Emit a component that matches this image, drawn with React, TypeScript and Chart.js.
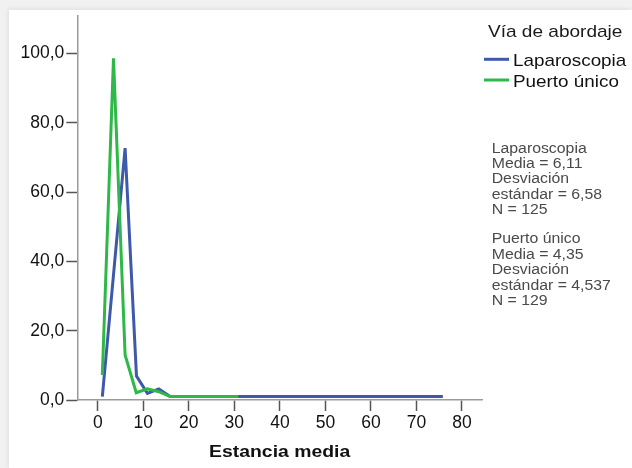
import React, { useEffect, useRef } from "react";
import { Chart, registerables } from "chart.js";

Chart.register(...registerables);

// Frequency polygon of hospital stay (days) by surgical approach
const lapX = [1.0, 6.0, 8.5, 10.9, 13.4, 15.9, 75.8];
const lapY = [1.0, 72.7, 6.9, 1.9, 3.2, 1.0, 1.0];
const puX = [1.0, 3.45, 6.0, 8.45, 10.9, 13.4, 15.9, 30.9];
const puY = [7.2, 98.6, 13.0, 2.1, 3.2, 2.4, 1.0, 1.0];

const seriesNames = ["Laparoscopia", "Puerto único"];
const seriesColors = ["#3e58ac", "#2eb848"];
const legendTitle = "Vía de abordaje";
const xTitle = "Estancia media";
const xTicks = [0, 10, 20, 30, 40, 50, 60, 70, 80];
const yTicks = [0, 20, 40, 60, 80, 100];

const statsLap = ["Laparoscopia", "Media = 6,11", "Desviación", "estándar = 6,58", "N = 125"];
const statsPu = ["Puerto único", "Media = 4,35", "Desviación", "estándar = 4,537", "N = 129"];

const FONT = "'Liberation Sans', Arial, sans-serif";

function wideText(
  ctx: CanvasRenderingContext2D,
  text: string,
  x: number,
  y: number,
  font: string,
  color: string,
  sx: number,
  align: CanvasTextAlign = "left"
) {
  ctx.save();
  ctx.font = font;
  ctx.fillStyle = color;
  ctx.textAlign = align;
  ctx.textBaseline = "alphabetic";
  ctx.translate(x, y);
  ctx.scale(sx, 1);
  ctx.fillText(text, 0, 0);
  ctx.restore();
}

const annotations = {
  id: "sideText",
  afterDraw(chart: any) {
    const ctx: CanvasRenderingContext2D = chart.ctx;
    const area = chart.chartArea;

    // legend
    wideText(ctx, legendTitle, 479, 27.3, `17px ${FONT}`, "#1a1a1a", 1.12);
    const rows = [49.3, 70];
    seriesNames.forEach((name, i) => {
      ctx.save();
      ctx.strokeStyle = seriesColors[i];
      ctx.lineWidth = 3;
      ctx.beginPath();
      ctx.moveTo(475, rows[i]);
      ctx.lineTo(500, rows[i]);
      ctx.stroke();
      ctx.restore();
      wideText(ctx, name, 504, rows[i] + 6.8, `17px ${FONT}`, "#111", 1.11);
    });

    // summary statistics
    statsLap.forEach((t, i) =>
      wideText(ctx, t, 482.7, 142.7 + i * 15.3, `14px ${FONT}`, "#4a4a4a", 1.13)
    );
    statsPu.forEach((t, i) =>
      wideText(ctx, t, 482.7, 233.3 + i * 15.4, `14px ${FONT}`, "#4a4a4a", 1.13)
    );

    // x-axis title
    wideText(
      ctx,
      xTitle,
      (area.left + area.right) / 2,
      447.3,
      `bold 17px ${FONT}`,
      "#111",
      1.14,
      "center"
    );
  },
};

const noEdgePadding = (s: any) => {
  s.paddingTop = 0;
  s.paddingBottom = 0;
  s.paddingLeft = 0;
  s.paddingRight = 0;
};

export default function App() {
  const ref = useRef<HTMLCanvasElement | null>(null);

  useEffect(() => {
    if (!ref.current) return;
    const toPts = (xs: number[], ys: number[]) => xs.map((x, i) => ({ x, y: ys[i] }));
    const chart = new Chart(ref.current, {
      type: "line",
      data: {
        datasets: [
          {
            label: seriesNames[0],
            data: toPts(lapX, lapY),
            borderColor: seriesColors[0],
            backgroundColor: seriesColors[0],
            borderWidth: 3,
            pointRadius: 0,
            tension: 0,
            order: 2,
          },
          {
            label: seriesNames[1],
            data: toPts(puX, puY),
            borderColor: seriesColors[1],
            backgroundColor: seriesColors[1],
            borderWidth: 3,
            pointRadius: 0,
            tension: 0,
            order: 1,
          },
        ],
      },
      options: {
        animation: false,
        responsive: false,
        layout: { padding: { left: 0, right: 150, top: 6, bottom: 0 } },
        plugins: { legend: { display: false }, tooltip: { enabled: false } },
        scales: {
          x: {
            type: "linear",
            min: -4.5,
            max: 84.4,
            afterBuildTicks: (s: any) => {
              s.ticks = xTicks.map((v) => ({ value: v }));
            },
            afterFit: (s: any) => {
              s.height = 68;
              noEdgePadding(s);
            },
            grid: {
              drawOnChartArea: false,
              drawTicks: true,
              tickLength: 11,
              tickColor: "#555",
              tickWidth: 1.5,
            },
            border: { color: "#9a9a9a", width: 1.5 },
            ticks: {
              font: { family: FONT, size: 17.5 },
              color: "#111",
              padding: 2,
              maxRotation: 0,
            },
          },
          y: {
            type: "linear",
            min: 0,
            max: 110.8,
            afterBuildTicks: (s: any) => {
              s.ticks = yTicks.map((v) => ({ value: v }));
            },
            afterFit: (s: any) => {
              s.width = 68.3;
              noEdgePadding(s);
            },
            grid: {
              drawOnChartArea: false,
              drawTicks: true,
              tickLength: 11,
              tickColor: "#555",
              tickWidth: 1.5,
            },
            border: { color: "#9a9a9a", width: 1.5 },
            ticks: {
              font: { family: FONT, size: 17.5 },
              color: "#111",
              padding: 2,
              callback: (v: any) => Number(v).toFixed(1).replace(".", ","),
            },
          },
        },
      },
      plugins: [annotations],
    });
    return () => chart.destroy();
  }, []);

  return (
    <div
      style={{
        position: "fixed",
        left: 0,
        top: 0,
        width: 632,
        height: 468,
        background: "#f1f1f1",
        overflow: "hidden",
      }}
    >
      <div
        style={{
          position: "absolute",
          left: 9,
          top: 10,
          width: 623,
          height: 458,
          background: "#ffffff",
          boxShadow: "-1px -1px 4px rgba(0,0,0,0.08)",
        }}
      >
        <canvas ref={ref} width={623} height={458} style={{ display: "block" }} />
      </div>
    </div>
  );
}
